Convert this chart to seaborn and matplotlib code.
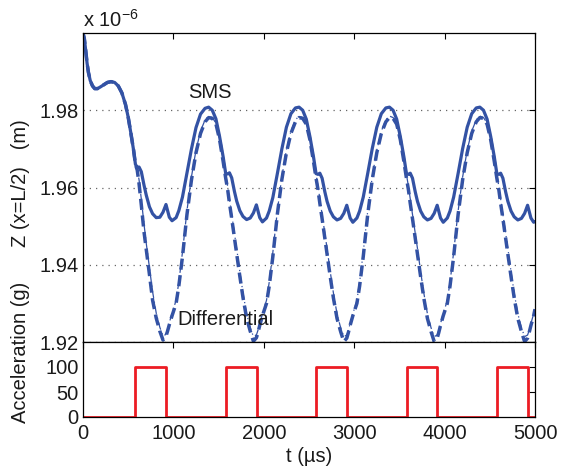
import matplotlib
matplotlib.use("Agg")
import matplotlib.pyplot as plt
import seaborn as sns
import numpy as np

# ---------------- data (z in units of 1e-6 m, t in microseconds) ----------------
t_p0 = [0, 15, 30, 45, 60, 80, 105, 130, 160, 190, 230, 270, 310, 350, 390, 430,
        470, 500, 530, 560, 580, 600, 620, 645, 675, 700, 735, 770, 810, 850, 885,
        918, 935, 955, 985]
t_p1 = [1030, 1060, 1100, 1150, 1200, 1250, 1300, 1350, 1390, 1430, 1470, 1510, 1550, 1578,
        1600, 1620, 1645, 1675, 1700, 1735, 1770, 1810, 1850, 1885, 1918, 1935, 1955, 1985]
t_p2 = [2030, 2060, 2100, 2150, 2200, 2250, 2300, 2350, 2390, 2430, 2470, 2510, 2550, 2578,
        2600, 2620, 2645, 2675, 2700, 2735, 2770, 2810, 2850, 2885, 2918, 2935, 2955, 2985]
t_p3 = [3030, 3060, 3100, 3150, 3200, 3250, 3300, 3350, 3390, 3430, 3470, 3510, 3550, 3578,
        3600, 3620, 3645, 3675, 3700, 3735, 3770, 3810, 3850, 3885, 3918, 3935, 3955, 3985]
t_p4 = [4030, 4060, 4100, 4150, 4200, 4250, 4300, 4350, 4390, 4430, 4470, 4510, 4550, 4578,
        4600, 4620, 4645, 4675, 4700, 4735, 4770, 4810, 4850, 4885, 4918, 4935, 4955, 4985,
        5000]

# shared initial transient (all three models coincide until ~580 us)
z_init = [2.0000, 1.9985, 1.9955, 1.9922, 1.9898, 1.9877, 1.9863, 1.9856, 1.9856, 1.9860,
          1.9866, 1.9872, 1.9874, 1.9872, 1.9863, 1.9845, 1.9815, 1.9782, 1.9740, 1.9696,
          1.9660]

# SMS (solid)
sms_p0 = [1.9652, 1.9653, 1.9641, 1.9606, 1.9580, 1.9550, 1.9532, 1.9522, 1.9523, 1.9536,
          1.9556, 1.9541, 1.9523, 1.9514]
sms_p1 = [1.9522, 1.9540, 1.9575, 1.9637, 1.9700, 1.9755, 1.9790, 1.9805, 1.9808, 1.9800,
          1.9778, 1.9733, 1.9680, 1.9637, 1.9635, 1.9638, 1.9625, 1.9590, 1.9565, 1.9540,
          1.9525, 1.9517, 1.9521, 1.9534, 1.9555, 1.9540, 1.9522, 1.9511]
sms_p2 = [1.9521, 1.9539, 1.9574, 1.9636, 1.9700, 1.9756, 1.9791, 1.9806, 1.9808, 1.9800,
          1.9777, 1.9732, 1.9679, 1.9636, 1.9634, 1.9637, 1.9624, 1.9589, 1.9564, 1.9539,
          1.9524, 1.9516, 1.9520, 1.9533, 1.9554, 1.9539, 1.9521, 1.9510]
sms_p3 = [1.9521, 1.9539, 1.9575, 1.9637, 1.9701, 1.9756, 1.9791, 1.9806, 1.9808, 1.9800,
          1.9777, 1.9732, 1.9679, 1.9636, 1.9634, 1.9637, 1.9624, 1.9589, 1.9564, 1.9539,
          1.9524, 1.9516, 1.9520, 1.9533, 1.9554, 1.9539, 1.9521, 1.9510]
sms_p4 = [1.9521, 1.9539, 1.9575, 1.9637, 1.9701, 1.9756, 1.9791, 1.9806, 1.9808, 1.9800,
          1.9777, 1.9732, 1.9679, 1.9636, 1.9634, 1.9637, 1.9624, 1.9589, 1.9564, 1.9539,
          1.9524, 1.9516, 1.9520, 1.9533, 1.9554, 1.9539, 1.9521, 1.9510, 1.9512]

# Differential model, dashed
dsh_p0 = [1.9645, 1.9610, 1.9555, 1.9485, 1.9440, 1.9375, 1.9308, 1.9262, 1.9228, 1.9205,
          1.9215, 1.9228, 1.9245, 1.9268]
dsh_p1 = [1.9300, 1.9345, 1.9420, 1.9530, 1.9620, 1.9690, 1.9740, 1.9770, 1.9781, 1.9779,
          1.9765, 1.9725, 1.9668, 1.9625, 1.9595, 1.9560, 1.9520, 1.9470, 1.9430, 1.9370,
          1.9315, 1.9262, 1.9228, 1.9202, 1.9211, 1.9224, 1.9243, 1.9268]
dsh_p2 = [1.9300, 1.9345, 1.9421, 1.9531, 1.9621, 1.9690, 1.9740, 1.9770, 1.9781, 1.9779,
          1.9764, 1.9724, 1.9667, 1.9624, 1.9594, 1.9559, 1.9519, 1.9469, 1.9429, 1.9369,
          1.9314, 1.9261, 1.9227, 1.9201, 1.9210, 1.9224, 1.9243, 1.9268]
dsh_p3 = [1.9300, 1.9345, 1.9421, 1.9531, 1.9621, 1.9690, 1.9740, 1.9770, 1.9781, 1.9779,
          1.9764, 1.9724, 1.9667, 1.9624, 1.9594, 1.9559, 1.9519, 1.9469, 1.9429, 1.9369,
          1.9314, 1.9261, 1.9227, 1.9201, 1.9210, 1.9224, 1.9243, 1.9268]
dsh_p4 = [1.9300, 1.9345, 1.9421, 1.9531, 1.9621, 1.9690, 1.9740, 1.9770, 1.9781, 1.9779,
          1.9764, 1.9724, 1.9667, 1.9624, 1.9594, 1.9559, 1.9519, 1.9469, 1.9429, 1.9369,
          1.9314, 1.9261, 1.9227, 1.9201, 1.9210, 1.9224, 1.9243, 1.9268, 1.9285]

# Differential model, dash-dot
dd_p0 = [1.9648, 1.9620, 1.9570, 1.9505, 1.9455, 1.9392, 1.9330, 1.9275, 1.9238, 1.9215,
         1.9220, 1.9232, 1.9250, 1.9275]
dd_p1 = [1.9308, 1.9355, 1.9432, 1.9540, 1.9628, 1.9697, 1.9746, 1.9775, 1.9785, 1.9781,
         1.9767, 1.9728, 1.9672, 1.9632, 1.9603, 1.9570, 1.9530, 1.9482, 1.9442, 1.9382,
         1.9327, 1.9273, 1.9237, 1.9214, 1.9218, 1.9230, 1.9248, 1.9273]
dd_p2 = [1.9308, 1.9355, 1.9432, 1.9540, 1.9628, 1.9697, 1.9746, 1.9775, 1.9785, 1.9781,
         1.9767, 1.9728, 1.9672, 1.9632, 1.9603, 1.9570, 1.9530, 1.9482, 1.9442, 1.9382,
         1.9327, 1.9273, 1.9237, 1.9214, 1.9218, 1.9230, 1.9248, 1.9273]
dd_p3 = [1.9308, 1.9355, 1.9432, 1.9540, 1.9628, 1.9697, 1.9746, 1.9775, 1.9785, 1.9781,
         1.9767, 1.9728, 1.9672, 1.9632, 1.9603, 1.9570, 1.9530, 1.9482, 1.9442, 1.9382,
         1.9327, 1.9273, 1.9237, 1.9214, 1.9218, 1.9230, 1.9248, 1.9273]
dd_p4 = [1.9308, 1.9355, 1.9432, 1.9540, 1.9628, 1.9697, 1.9746, 1.9775, 1.9785, 1.9781,
         1.9767, 1.9728, 1.9672, 1.9632, 1.9603, 1.9570, 1.9530, 1.9482, 1.9442, 1.9382,
         1.9327, 1.9273, 1.9237, 1.9214, 1.9218, 1.9230, 1.9248, 1.9273, 1.9290]

# acceleration pulses (g)
pulse_start = [580, 1580, 2580, 3580, 4580]
pulse_end = [920, 1920, 2920, 3920, 4920]
pulse_level = 100
t_end = 5000

yticks_top = [1.92, 1.94, 1.96, 1.98]
yticks_bot = [0, 50, 100]
xticks = [0, 1000, 2000, 3000, 4000, 5000]

# ---------------- assemble ----------------
t_all = t_p0 + t_p1 + t_p2 + t_p3 + t_p4
z_sms = z_init + sms_p0 + sms_p1 + sms_p2 + sms_p3 + sms_p4
z_dsh = z_init + dsh_p0 + dsh_p1 + dsh_p2 + dsh_p3 + dsh_p4
z_dd = z_init + dd_p0 + dd_p1 + dd_p2 + dd_p3 + dd_p4

acc_t, acc_v = [0], [0]
for s, e in zip(pulse_start, pulse_end):
    acc_t += [s, s, e, e]
    acc_v += [0, pulse_level, pulse_level, 0]
acc_t.append(t_end)
acc_v.append(0)

# ---------------- style ----------------
sns.set_theme(style="white")
plt.rcParams['font.family'] = ['Liberation Sans', 'DejaVu Sans']
plt.rcParams['mathtext.fontset'] = 'custom'
plt.rcParams['mathtext.rm'] = 'Liberation Sans'
plt.rcParams['mathtext.it'] = 'Liberation Sans:italic'
FS = 14.5
TXT = "#1a1a1a"

blue = "#3352a4"
red = "#ec1c24"

W, H = 567, 472
fig = plt.figure(figsize=(W / 100, H / 100), dpi=100)
L, R = 83, 535
ax1 = fig.add_axes([L / W, 1 - 342 / H, (R - L) / W, (342 - 33) / H])
ax2 = fig.add_axes([L / W, 1 - 417 / H, (R - L) / W, (417 - 342) / H])

# top panel
sns.lineplot(x=t_all, y=z_dsh, ax=ax1, color=blue, linewidth=2.5,
             estimator=None, sort=False)
ax1.lines[-1].set_dashes([3.2, 1.6])
sns.lineplot(x=t_all, y=z_dd, ax=ax1, color=blue, linewidth=0.9,
             estimator=None, sort=False)
ax1.lines[-1].set_dashes([6, 3, 1, 3])
sns.lineplot(x=t_all, y=z_sms, ax=ax1, color=blue, linewidth=2.3,
             estimator=None, sort=False)

ax1.set_xlim(0, 5000)
ax1.set_ylim(1.92, 2.0)
ax1.set_xticks(xticks)
ax1.set_xticklabels([])
ax1.set_yticks(yticks_top)
ax1.set_yticklabels([f"{v:.2f}" for v in yticks_top], fontsize=FS)
ax1.yaxis.grid(True, linestyle=(0, (1, 4)), color="#666666", linewidth=0.9)
ax1.xaxis.grid(False)
ax1.set_ylabel("Z (x=L/2)   (m)", fontsize=FS, color=TXT)
ax1.yaxis.set_label_coords(-53 / (R - L), (342 - 183.5) / 309)
ax1.text(1405, 1.9845, "SMS", fontsize=FS, ha="center", va="center", color=TXT)
ax1.text(1040, 1.9258, "Differential", fontsize=FS, ha="left", va="center", color=TXT)
fig.text(L / W, 1 - 27 / H, r"x 10$^{-6}$", fontsize=FS, ha="left", va="baseline",
         color=TXT)

# bottom panel
sns.lineplot(x=acc_t, y=acc_v, ax=ax2, color=red, linewidth=2.0,
             estimator=None, sort=False)
ax2.set_xlim(0, 5000)
ax2.set_ylim(0, 150)
ax2.set_xticks(xticks)
ax2.set_xticklabels([str(v) for v in xticks], fontsize=FS)
ax2.set_yticks(yticks_bot)
ax2.set_yticklabels([str(v) for v in yticks_bot], fontsize=FS)
ax2.set_xlabel("t (\u00b5s)", fontsize=FS, color=TXT, labelpad=3)
ax2.set_ylabel("Acceleration (g)", fontsize=FS, color=TXT)
ax2.yaxis.set_label_coords(-53 / (R - L), (417 - 352) / 75)

for ax in (ax1, ax2):
    for sp in ax.spines.values():
        sp.set_visible(True)
        sp.set_color("black")
        sp.set_linewidth(0.9)
    ax.tick_params(direction="in", length=4.5, width=0.8, top=True, right=True,
                   colors="black", labelcolor=TXT, pad=3)
ax2.tick_params(axis="x", pad=5)

fig.savefig("out.png", dpi=100, facecolor="white")
